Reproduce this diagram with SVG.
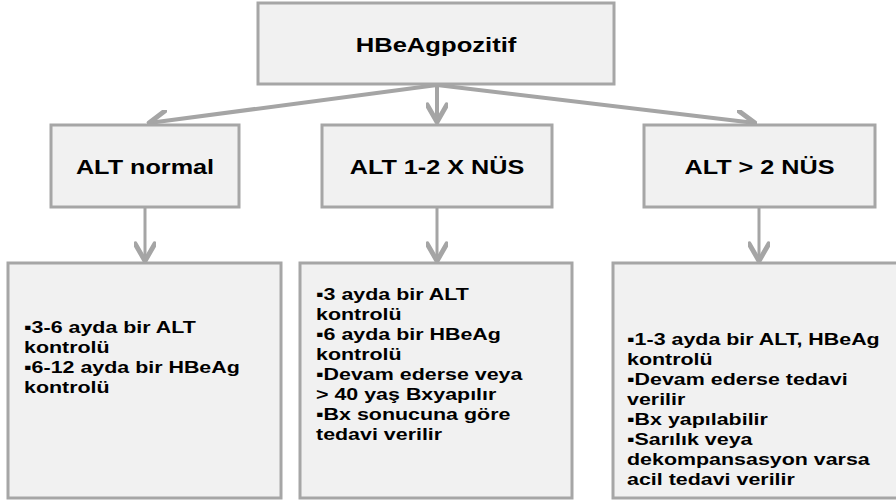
<svg xmlns="http://www.w3.org/2000/svg" width="896" height="501" viewBox="0 0 896 501">
<style>
.box{fill:#f1f1f1;stroke:#a6a6a6;stroke-width:3}
.t{font-family:"Liberation Sans",Arial,sans-serif;font-weight:bold;fill:#000}
.h{font-size:21px;text-anchor:middle}
.m{font-size:20.5px;text-anchor:middle}
.b{font-size:17px}
.c{fill:none;stroke:#a5a5a5;stroke-width:4}
.v{fill:none;stroke:#a5a5a5;stroke-width:3}
</style>
<defs>
<marker id="ah" markerUnits="userSpaceOnUse" markerWidth="22" markerHeight="22" viewBox="-16 -9 18 18" refX="0" refY="0" orient="auto">
<path d="M-14,-8 L0,0 L-14,8" fill="none" stroke="#a5a5a5" stroke-width="4" stroke-linejoin="round" stroke-linecap="round"/>
</marker>
</defs>
<g id="connectors">
<line class="c" x1="437" y1="85" x2="149" y2="123" marker-end="url(#ah)"/>
<line class="c" x1="437" y1="85" x2="437" y2="122" marker-end="url(#ah)"/>
<line class="c" x1="437" y1="85" x2="755" y2="123" marker-end="url(#ah)"/>
<line class="v" x1="145" y1="208" x2="145" y2="261" marker-end="url(#ah)"/>
<line class="v" x1="437" y1="208" x2="437" y2="261" marker-end="url(#ah)"/>
<line class="v" x1="759" y1="208" x2="759" y2="261" marker-end="url(#ah)"/>
</g>
<g id="root">
<rect class="box" x="258" y="3" width="356" height="81"/>
<text class="t h" transform="translate(436,52) scale(1.22,1)">HBeAgpozitif</text>
</g>
<g id="alt-normal">
<rect class="box" x="51" y="125" width="188" height="82"/>
<text class="t m" transform="translate(145,174) scale(1.23,1)">ALT normal</text>
</g>
<g id="alt-1-2">
<rect class="box" x="322" y="125" width="230" height="82"/>
<text class="t m" transform="translate(437,174) scale(1.23,1)">ALT 1-2 X NÜS</text>
</g>
<g id="alt-gt2">
<rect class="box" x="644" y="125" width="231" height="82"/>
<text class="t m" transform="translate(759.5,174) scale(1.23,1)">ALT &gt; 2 NÜS</text>
</g>
<g id="detail-normal">
<rect class="box" x="8" y="263" width="273" height="235"/>
<g transform="translate(24,0) scale(1.26,1)">
<text class="t b" x="0" y="333">▪3-6 ayda bir ALT</text>
<text class="t b" x="0" y="353">kontrolü</text>
<text class="t b" x="0" y="373">▪6-12 ayda bir HBeAg</text>
<text class="t b" x="0" y="393">kontrolü</text>
</g>
</g>
<g id="detail-1-2">
<rect class="box" x="300" y="263" width="272" height="235"/>
<g transform="translate(316,0) scale(1.26,1)">
<text class="t b" x="0" y="300">▪3 ayda bir ALT</text>
<text class="t b" x="0" y="320">kontrolü</text>
<text class="t b" x="0" y="340">▪6 ayda bir HBeAg</text>
<text class="t b" x="0" y="360">kontrolü</text>
<text class="t b" x="0" y="380">▪Devam ederse veya</text>
<text class="t b" x="0" y="400">&gt; 40 yaş Bxyapılır</text>
<text class="t b" x="0" y="420">▪Bx sonucuna göre</text>
<text class="t b" x="0" y="440">tedavi verilir</text>
</g>
</g>
<g id="detail-gt2">
<rect class="box" x="613" y="263" width="290" height="235"/>
<g transform="translate(627,0) scale(1.26,1)">
<text class="t b" x="0" y="345">▪1-3 ayda bir ALT, HBeAg</text>
<text class="t b" x="0" y="365">kontrolü</text>
<text class="t b" x="0" y="385">▪Devam ederse tedavi</text>
<text class="t b" x="0" y="405">verilir</text>
<text class="t b" x="0" y="425">▪Bx yapılabilir</text>
<text class="t b" x="0" y="445">▪Sarılık veya</text>
<text class="t b" x="0" y="465">dekompansasyon varsa</text>
<text class="t b" x="0" y="485">acil tedavi verilir</text>
</g>
</g>
</svg>
